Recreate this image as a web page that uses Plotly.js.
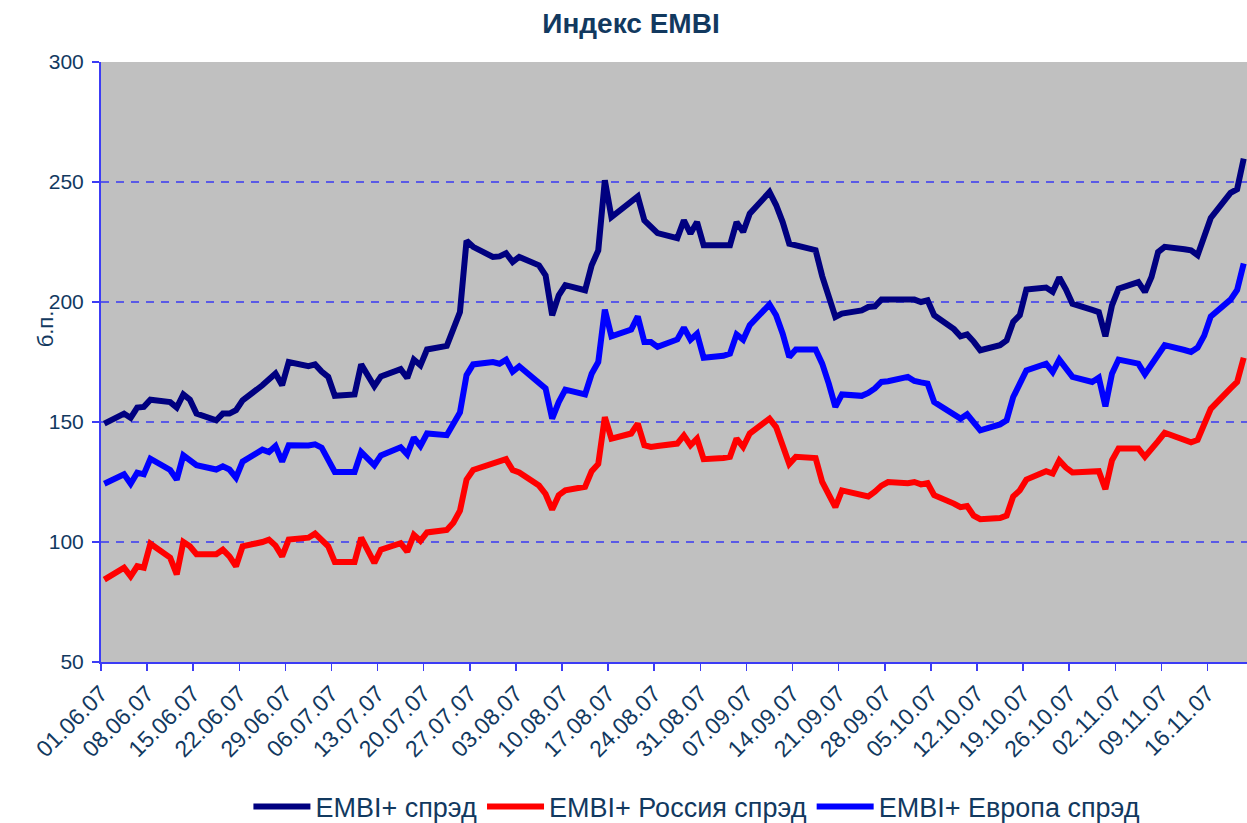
<!DOCTYPE html>
<html>
<head>
<meta charset="utf-8">
<script src="https://cdn.plot.ly/plotly-3.0.1.min.js"></script>
<style>
html,body{margin:0;padding:0;background:#fff;}
#chart{width:1247px;height:823px;}
</style>
</head>
<body>
<div id="chart"></div>
<script>
// Trading dates (dd.mm.yy)
const dates = [
"01.06.07","04.06.07","05.06.07","06.06.07","07.06.07","08.06.07",
"11.06.07","12.06.07","13.06.07","14.06.07","15.06.07",
"18.06.07","19.06.07","20.06.07","21.06.07","22.06.07",
"25.06.07","26.06.07","27.06.07","28.06.07","29.06.07",
"02.07.07","03.07.07","04.07.07","05.07.07","06.07.07",
"09.07.07","10.07.07","11.07.07","12.07.07","13.07.07",
"16.07.07","17.07.07","18.07.07","19.07.07","20.07.07",
"23.07.07","24.07.07","25.07.07","26.07.07","27.07.07",
"30.07.07","31.07.07","01.08.07","02.08.07","03.08.07",
"06.08.07","07.08.07","08.08.07","09.08.07","10.08.07",
"13.08.07","14.08.07","15.08.07","16.08.07","17.08.07",
"20.08.07","21.08.07","22.08.07","23.08.07","24.08.07",
"27.08.07","28.08.07","29.08.07","30.08.07","31.08.07",
"03.09.07","04.09.07","05.09.07","06.09.07","07.09.07",
"10.09.07","11.09.07","12.09.07","13.09.07","14.09.07",
"17.09.07","18.09.07","19.09.07","20.09.07","21.09.07",
"24.09.07","25.09.07","26.09.07","27.09.07","28.09.07",
"01.10.07","02.10.07","03.10.07","04.10.07","05.10.07",
"08.10.07","09.10.07","10.10.07","11.10.07","12.10.07",
"15.10.07","16.10.07","17.10.07","18.10.07","19.10.07",
"22.10.07","23.10.07","24.10.07","25.10.07","26.10.07",
"29.10.07","30.10.07","31.10.07","01.11.07","02.11.07",
"05.11.07","06.11.07","07.11.07","08.11.07","09.11.07",
"12.11.07","13.11.07","14.11.07","15.11.07","16.11.07",
"19.11.07","20.11.07","21.11.07"
];

// EMBI+ спрэд
const embiSpread = [
149.3,153.5,151.7,156.0,156.3,159.3,
158.3,156.0,161.5,159.3,153.5,
150.7,153.5,153.5,154.9,159.0,
165.3,168.0,170.2,165.3,175.0,
173.3,174.0,171.0,168.8,160.9,
161.5,174.0,169.5,164.9,169.0,
172.0,168.3,176.0,173.6,180.2,
181.7,189.6,195.8,225.5,223.0,
218.8,219.0,220.3,216.7,218.8,
215.3,211.1,194.5,202.8,207.0,
204.9,215.3,221.5,250.7,235.4,
241.5,244.0,234.0,231.0,228.7,
226.6,234.0,228.5,233.3,223.6,
223.6,223.6,233.3,229.2,236.8,
245.8,240.4,233.3,224.3,223.7,
221.6,210.8,201.7,193.8,195.2,
196.5,197.9,198.2,201.0,201.0,
201.0,201.0,200.0,200.7,194.5,
188.7,185.7,186.5,183.5,179.9,
182.0,184.0,191.7,194.5,205.2,
206.0,204.2,210.2,205.3,199.3,
196.7,195.8,185.7,198.6,205.6,
208.3,204.2,210.4,220.8,223.0,
222.0,221.5,219.5,227.0,235.0,
245.5,247.0,259.7
];

// EMBI+ Россия спрэд
const russiaSpread = [
84.3,89.3,85.7,89.9,89.3,99.3,
93.5,86.5,100.0,98.2,94.9,
94.9,96.8,94.0,89.9,98.2,
100.0,101.0,98.5,94.0,101.0,
101.8,103.5,100.5,98.2,91.7,
91.7,101.8,96.5,91.3,96.8,
99.5,96.0,103.0,100.5,104.0,
105.0,108.0,113.0,126.0,130.0,
133.0,133.5,134.5,130.0,129.0,
123.5,120.0,113.5,119.5,121.5,
123.0,129.5,132.5,152.0,143.1,
145.2,149.3,140.3,139.6,140.0,
141.0,144.4,140.3,143.1,134.5,
135.0,135.5,143.1,139.6,145.2,
151.4,147.9,139.6,132.5,135.5,
135.0,125.0,119.0,114.5,121.5,
119.5,119.0,121.0,123.5,125.0,
124.5,125.0,124.0,124.5,119.5,
116.0,114.5,115.0,111.0,109.5,
110.0,111.0,119.0,121.5,126.0,
129.5,128.5,134.0,131.0,129.0,
129.0,129.5,122.0,134.0,139.0,
139.0,135.5,138.5,142.0,145.5,
142.0,141.5,142.5,148.5,155.5,
164.0,166.7,176.8
];

// EMBI+ Европа спрэд
const europeSpread = [
124.3,128.2,124.3,128.9,128.2,134.7,
130.0,126.0,136.1,134.0,132.0,
130.2,131.5,130.2,126.8,133.5,
138.5,137.5,140.0,133.5,140.3,
140.2,140.7,139.3,134.7,129.2,
129.2,137.5,134.7,132.0,136.1,
139.5,136.5,143.5,140.0,145.2,
144.5,149.0,154.0,169.5,174.0,
175.0,174.3,176.0,171.0,173.2,
166.5,164.0,151.4,158.3,163.5,
161.5,170.1,175.0,196.8,185.7,
188.5,194.0,183.3,183.3,181.3,
184.4,189.3,184.3,186.8,176.8,
177.6,178.5,186.5,184.3,190.3,
199.0,194.5,186.8,177.1,180.2,
180.2,174.3,166.0,156.3,161.5,
160.9,162.1,164.0,166.7,167.0,
168.8,167.1,166.5,166.0,158.3,
153.5,151.4,153.2,150.0,146.5,
149.0,150.7,160.4,165.5,171.5,
174.3,170.8,176.0,172.0,168.8,
166.7,168.5,156.5,170.1,176.0,
174.3,169.9,174.3,178.0,182.0,
180.0,179.2,181.0,186.0,194.0,
201.0,205.0,216.0
];

const seriesNames = ["EMBI+ спрэд", "EMBI+ Россия спрэд", "EMBI+ Европа спрэд"];
const yTicks = [50, 100, 150, 200, 250, 300];

// convert dd.mm.yy -> ISO at mid-day (Excel date axis plots values at the day centre)
function toISO(d) {
  const p = d.split(".");
  return "20" + p[2] + "-" + p[1] + "-" + p[0] + " 12:00";
}
const x = dates.map(toISO);

const textColor = "#12395f";
const axisBlue = "#3c3cf5";
const fontFam = "Liberation Sans, Arial, sans-serif";

const traces = [
  {x: x, y: embiSpread, name: seriesNames[0], mode: "lines",
   line: {color: "#000080", width: 6, shape: "linear"}},
  {x: x, y: russiaSpread, name: seriesNames[1], mode: "lines",
   line: {color: "#ff0000", width: 6, shape: "linear"}},
  {x: x, y: europeSpread, name: seriesNames[2], mode: "lines",
   line: {color: "#0000ff", width: 6, shape: "linear"}}
];

const layout = {
  width: 1247, height: 823,
  margin: {l: 101, r: 0, t: 62, b: 161, pad: 0, autoexpand: false},
  paper_bgcolor: "#ffffff",
  plot_bgcolor: "#c0c0c0",
  font: {family: fontFam, color: textColor, size: 21},
  title: {
    text: "<b>Индекс EMBI</b>",
    font: {family: fontFam, size: 28, color: textColor},
    xref: "container", x: 0.506, xanchor: "center",
    yref: "container", y: 0.972, yanchor: "middle"
  },
  xaxis: {
    type: "date",
    range: ["2007-06-01", "2007-11-22"],
    tick0: "2007-06-01",
    dtick: 7 * 86400000,
    tickformat: "%d.%m.%y",
    tickangle: -45,
    ticks: "outside", ticklen: 7, tickwidth: 1.5, tickcolor: axisBlue,
    showline: true, linecolor: axisBlue, linewidth: 2,
    showgrid: false, zeroline: false,
    tickfont: {size: 23, color: textColor},
    automargin: false,
    fixedrange: true
  },
  yaxis: {
    range: [50, 300],
    tickvals: yTicks,
    ticks: "outside", ticklen: 7, tickwidth: 1.5, tickcolor: axisBlue,
    showline: true, linecolor: axisBlue, linewidth: 2,
    showgrid: true, gridcolor: "#5a5ae6", gridwidth: 1.5, griddash: "8px,7px",
    zeroline: false,
    tickfont: {size: 21, color: textColor},
    ticklabelstandoff: 4,
    automargin: false,
    fixedrange: true
  },
  annotations: [{
    text: "б.п.", textangle: -90,
    xref: "paper", x: -0.0489, xanchor: "center",
    yref: "paper", y: 0.556, yanchor: "middle",
    showarrow: false,
    font: {family: fontFam, size: 22, color: textColor}
  }],
  showlegend: true,
  legend: {
    orientation: "h",
    xref: "paper", x: 0.52, xanchor: "center",
    yref: "container", y: 0.0194, yanchor: "middle",
    font: {size: 27, color: textColor},
    bgcolor: "rgba(0,0,0,0)",
    itemwidth: 57,
    tracegroupgap: 0
  }
};

Plotly.newPlot("chart", traces, layout, {displayModeBar: false, staticPlot: true});
</script>
</body>
</html>
